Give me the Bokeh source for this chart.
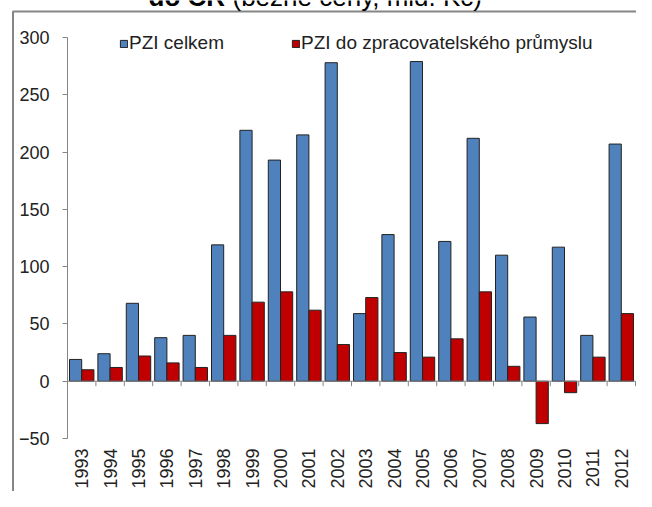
import math
from bokeh.plotting import figure
from bokeh.models import Range1d, FixedTicker, Label, ColumnDataSource
from bokeh.embed import file_html
from bokeh.resources import INLINE

years = ["1993", "1994", "1995", "1996", "1997", "1998", "1999", "2000", "2001", "2002",
         "2003", "2004", "2005", "2006", "2007", "2008", "2009", "2010", "2011", "2012"]
pzi_celkem = [19, 24, 68, 38, 40, 119, 219, 193, 215, 278,
              59, 128, 279, 122, 212, 110, 56, 117, 40, 207]
pzi_zprac = [10, 12, 22, 16, 12, 40, 69, 78, 62, 32,
             73, 25, 21, 37, 78, 13, -37, -10, 21, 59]
y_ticks = [-50, 0, 50, 100, 150, 200, 250, 300]
series_names = ["PZI celkem", "PZI do zpracovatelského průmyslu"]
title_bold = "do ČR"
title_rest = "(běžné ceny, mld. Kč)"

BLUE = "#4F81BD"
RED = "#C00000"
GRAY = "#868686"
EDGE = "#222222"
TXT = "#222222"
FONT = "Liberation Sans"

# ---- layout (pixels on the canvas) ----
W, H = 636, 491
AX_X = 67          # y axis position
PLOT_R = 635       # right end of the category area
Y_TOP_PX = 37      # pixel of the top tick
Y_BOT_PX = 438     # pixel of the bottom tick
n = len(years)
CW = (PLOT_R - AX_X) / n
K = (Y_BOT_PX - Y_TOP_PX) / (y_ticks[-1] - y_ticks[0])


def dx(px):   # canvas x -> data x
    return -0.5 + (px - AX_X) / CW


def dy(py):   # canvas y -> data y
    return y_ticks[-1] - (py - Y_TOP_PX) / K


xs = list(range(n))
source = ColumnDataSource(data=dict(
    x_blue=[i - 0.215 for i in xs], x_red=[i + 0.215 for i in xs],
    celkem=pzi_celkem, zprac=pzi_zprac,
    tick_x=[i + 0.5 for i in xs], zero=[0] * n, tick_end=[-5.0 / K] * n))

p = figure(width=W, height=H,
           x_range=Range1d(dx(0), dx(W)), y_range=Range1d(dy(H), dy(0)),
           output_backend="svg", toolbar_location=None,
           min_border_left=0, min_border_right=0, min_border_top=0, min_border_bottom=0)
p.outline_line_color = None
p.xgrid.grid_line_color = None
p.ygrid.grid_line_color = None
p.background_fill_color = "white"

# chart-area border (left and top edges)
p.line(x=[dx(12.5), dx(12.5), dx(W + 20)], y=[dy(H + 20), dy(11), dy(11)],
       line_color=GRAY, line_width=2)

# bars
p.vbar(x="x_blue", top="celkem", width=0.43, source=source,
       fill_color=BLUE, line_color=EDGE, line_width=1, legend_label=series_names[0])
p.vbar(x="x_red", top="zprac", width=0.43, source=source,
       fill_color=RED, line_color=EDGE, line_width=1, legend_label=series_names[1])

# category axis line at zero with Excel-like tick marks
p.segment(x0=[-0.5], y0=[0], x1=[n - 0.5], y1=[0], line_color=GRAY, line_width=1)
p.segment(x0="tick_x", y0="zero", x1="tick_x", y1="tick_end",
          source=source, line_color=GRAY, line_width=1)
# value axis line (from the lowest to the highest tick)
p.segment(x0=[-0.5], y0=[y_ticks[0]], x1=[-0.5], y1=[y_ticks[-1]],
          line_color=GRAY, line_width=1)

# y axis (ticks + labels)
ya = p.yaxis[0]
ya.fixed_location = -0.5
ya.ticker = FixedTicker(ticks=y_ticks)
ya.axis_line_color = None
ya.major_tick_line_color = GRAY
ya.major_tick_out = 5
ya.major_tick_in = 0
ya.minor_tick_line_color = None
ya.major_label_text_font = FONT
ya.major_label_text_font_size = "18px"
ya.major_label_text_color = TXT
ya.major_label_standoff = 13

# x axis (labels only, at the bottom of the value range)
xa = p.xaxis[0]
xa.fixed_location = y_ticks[0]
xa.ticker = FixedTicker(ticks=xs)
xa.major_label_overrides = {i: y for i, y in zip(xs, years)}
xa.axis_line_color = None
xa.major_tick_line_color = None
xa.major_tick_out = 0
xa.major_tick_in = 0
xa.minor_tick_line_color = None
xa.major_label_orientation = math.pi / 2
xa.major_label_text_font = FONT
xa.major_label_text_font_size = "18px"
xa.major_label_text_color = TXT
xa.major_label_standoff = 10

# legend
lg = p.legend[0]
lg.orientation = "horizontal"
lg.location = (119, H - 54)
lg.padding = 0
lg.margin = 0
lg.spacing = 67
lg.label_standoff = 1
lg.glyph_width = 9
lg.glyph_height = 9
lg.border_line_color = None
lg.background_fill_alpha = 0
lg.label_text_font = FONT
lg.label_text_font_size = "19px"
lg.label_text_color = TXT

# title, cut off at the top edge as in the original
TITLE_Y = H + 4
p.add_layout(Label(x=148, y=TITLE_Y, x_units="screen", y_units="screen",
                   text=title_bold, text_font=FONT, text_font_style="bold",
                   text_font_size="26px", text_align="left", text_baseline="alphabetic",
                   text_color="#000000"))
p.add_layout(Label(x=232, y=TITLE_Y, x_units="screen", y_units="screen",
                   text=title_rest, text_font=FONT, text_font_size="26px",
                   text_align="left", text_baseline="alphabetic", text_color="#000000"))

open("out.html", "w").write(file_html(p, INLINE))
